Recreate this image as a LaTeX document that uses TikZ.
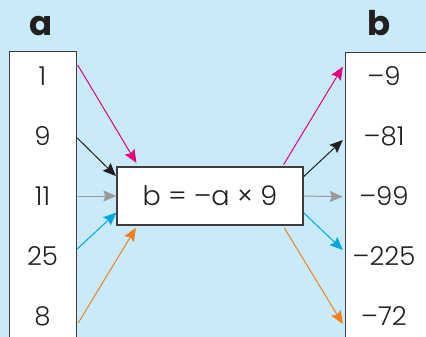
\documentclass[tikz,border=0pt]{standalone}
\usepackage{fontspec}
\setmainfont{Poppins}[UprightFont={* Light}, BoldFont={* Bold}]
\usepackage{tikz}
\usetikzlibrary{arrows.meta, positioning, calc}
\definecolor{sky}{RGB}{200,234,249}
\definecolor{edge}{RGB}{60,60,60}
\definecolor{inkA}{RGB}{35,31,32}
\definecolor{magentaA}{RGB}{229,0,125}
\definecolor{cyanA}{RGB}{0,166,226}
\definecolor{orangeA}{RGB}{240,127,34}
\definecolor{greyA}{RGB}{154,154,154}
\tikzset{
  column/.style = {rectangle, draw=edge, fill=white, line width=1.2pt,
                   anchor=north west, minimum height=320pt},
  num/.style    = {font=\fontsize{26}{26}\selectfont, text=inkA, inner sep=0pt,
                   text height=20pt, text depth=0pt, anchor=base},
  head/.style   = {font=\fontsize{34}{34}\selectfont\bfseries, text=inkA,
                   inner sep=0pt, anchor=base},
  rule/.style   = {rectangle, draw=edge, fill=white, line width=1.2pt,
                   minimum width=186pt, minimum height=58pt,
                   font=\fontsize{27}{27}\selectfont, text=inkA},
  arr/.style    = {-{Stealth[length=13pt, width=11pt, inset=2pt]}, line width=1pt},
}
\begin{document}
\begin{tikzpicture}[x=1pt, y=-1pt]
  \useasboundingbox (0,0) rectangle (426,337);
  \fill[sky] (0,0) rectangle (426,337);
  \clip (0,0) rectangle (426,337);

  % the two columns
  \node[column, minimum width=67pt] (colA) at (9,51) {};
  \node[column, minimum width=100pt] (colB) at (344.7,52) {};
  \node[head] (headA) at (41.5,36) {a};
  \node[head] (headB) at (379,36) {b};

  \node[num, minimum width=67pt] (a1) at (42.5,85) {1};
  \node[num, minimum width=67pt] (a2) at (42.5,145) {9};
  \node[num, minimum width=67pt] (a3) at (42.5,205) {11};
  \node[num, minimum width=67pt] (a4) at (42.5,265) {25};
  \node[num, minimum width=67pt] (a5) at (42.5,325) {8};

  \node[num, minimum width=79pt] (b1) at (384,85) {–9};
  \node[num, minimum width=79pt] (b2) at (384,145) {–81};
  \node[num, minimum width=79pt] (b3) at (384,205) {–99};
  \node[num, minimum width=79pt] (b4) at (384,265) {–225};
  \node[num, minimum width=79pt] (b5) at (384,325) {–72};

  % the rule in the middle
  \node[rule] (eq) at (210,196) {b = –a × 9};

  \draw[arr, magentaA] ($(a1.east)+(1.5,-10)$) -- ($(eq.north west)+(20,-3.5)$);
  \draw[arr, inkA]     ($(a2.east)+(1,3)$)     -- ($(eq.west)+(-0.5,-20)$);
  \draw[arr, greyA]    ($(a3.east)+(2,1)$)     -- (eq.west);
  \draw[arr, cyanA]    ($(a4.east)+(1,-6)$)    -- ($(eq.west)+(0,16.5)$);
  \draw[arr, orangeA]  ($(a5.east)+(2,8)$)     -- ($(eq.south west)+(19.5,2.3)$);

  \draw[arr, magentaA] ($(eq.north east)+(-20,-1.7)$) -- ($(b1.west)+(-1.5,-8.3)$);
  \draw[arr, inkA]     ($(eq.east)+(0,-19.3)$)        -- ($(b2.west)+(-1.5,5)$);
  \draw[arr, greyA]    (eq.east)                      -- ($(b3.west)+(-1.5,1.7)$);
  \draw[arr, cyanA]    ($(eq.east)+(0,16.7)$)         -- ($(b4.west)+(-1.5,-5)$);
  \draw[arr, orangeA]  ($(eq.south east)+(-19.3,2.3)$) -- ($(b5.west)+(-1.5,9)$);
\end{tikzpicture}
\end{document}
